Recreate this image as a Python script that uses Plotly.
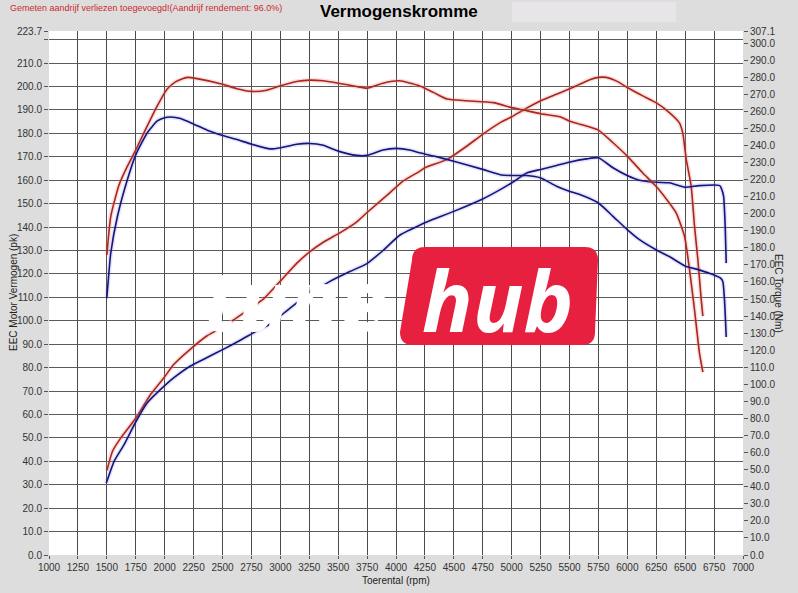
import plotly.graph_objects as go

# rpm axis and readings taken off the dyno sheet
rpm_power_red = [1500, 1549, 1621, 1753, 1879, 1994, 2080, 2223, 2367, 2453, 2596, 2711, 2855,
                 2998, 3141, 3256, 3371, 3514, 3658, 3745, 3946, 4060, 4204, 4250, 4442, 4614,
                 4749, 4901, 5001, 5102, 5251, 5388, 5497, 5589, 5675, 5750, 5818, 5904, 5999,
                 6134, 6248, 6363, 6449, 6480, 6509, 6552, 6581, 6610, 6639, 6653]
power_red = [36.0, 44.3, 50.0, 58.6, 68.6, 75.7, 81.4, 87.9, 93.6, 96.0, 100.4, 104.3, 109.3,
             116.8, 124.5, 129.5, 133.5, 137.5, 142.1, 146.0, 154.6, 159.6, 163.8, 165.3, 168.9, 174.6,
             179.6, 184.6, 187.1, 190.0, 193.9, 196.7, 198.9, 201.0, 202.9, 203.9, 203.9, 202.4, 199.6,
             196.0, 193.1, 188.9, 184.6, 180.0, 169.0, 157.4, 140.3, 126.0, 108.9, 102.0]

rpm_torque_red = [1500, 1534, 1606, 1678, 1752, 1835, 1936, 2022, 2094, 2194, 2280, 2500, 2624,
                  2753, 2882, 3002, 3140, 3252, 3370, 3500, 3658, 3750, 3887, 4030, 4201, 4327,
                  4442, 4614, 4843, 5001, 5102, 5251, 5417, 5497, 5589, 5750, 5876, 5999, 6134,
                  6248, 6363, 6423, 6495, 6538, 6581, 6624, 6653]
torque_red = [175.9, 198.5, 217.0, 227.9, 237.6, 249.4, 263.2, 273.1, 277.3, 279.9, 279.2, 275.9, 273.3,
              271.7, 272.4, 275.0, 277.5, 278.3, 277.9, 276.5, 274.6, 273.6, 276.5, 277.9, 275.0, 271.0,
              267.2, 266.2, 265.1, 262.2, 260.8, 258.6, 256.9, 254.4, 252.5, 249.0, 241.6, 233.8, 223.9,
              216.1, 206.3, 200.4, 186.7, 167.1, 143.6, 118.1, 107.2]

rpm_power_blue = [1495, 1563, 1649, 1753, 1850, 1965, 2080, 2223, 2367, 2510, 2654, 2797, 2912,
                  3084, 3228, 3429, 3601, 3745, 3888, 4032, 4213, 4327, 4499, 4749, 4901, 5001,
                  5130, 5251, 5388, 5497, 5646, 5750, 5876, 5999, 6105, 6248, 6363, 6498, 6621,
                  6799, 6811, 6832, 6846, 6855]
power_blue = [30.7, 40.0, 47.1, 57.1, 65.0, 70.7, 75.7, 80.7, 84.3, 87.9, 91.7, 95.7, 98.6,
              105.4, 110.7, 116.8, 121.0, 124.3, 130.0, 136.5, 141.0, 143.4, 146.7, 152.0, 156.0, 158.9,
              163.1, 164.6, 166.3, 167.7, 169.1, 169.6, 165.3, 162.0, 160.0, 159.1, 158.9, 157.0, 157.7,
              157.7, 156.7, 153.2, 140.3, 124.6]

rpm_torque_blue = [1500, 1534, 1592, 1678, 1752, 1850, 1936, 1999, 2051, 2137, 2252, 2367, 2502,
                   2625, 2754, 2912, 3004, 3141, 3253, 3371, 3500, 3658, 3750, 3888, 4003, 4118,
                   4204, 4327, 4499, 4749, 4901, 5001, 5130, 5251, 5388, 5497, 5589, 5750, 5876,
                   5999, 6105, 6248, 6363, 6498, 6621, 6745, 6808, 6826, 6840, 6855]
torque_blue = [150.5, 177.0, 198.5, 220.1, 234.8, 247.5, 254.4, 256.3, 256.7, 255.8, 252.5, 249.0, 245.9,
               243.5, 240.7, 238.0, 238.7, 240.7, 241.2, 240.1, 236.7, 234.2, 234.2, 237.4, 238.3, 237.4,
               235.7, 233.8, 230.8, 226.0, 222.9, 222.4, 222.4, 221.0, 216.1, 213.2, 211.3, 206.3, 198.5,
               190.7, 184.8, 178.9, 174.9, 169.4, 167.1, 164.2, 162.1, 160.2, 149.5, 127.8]

x_ticks = list(range(1000, 7001, 250))
power_ticks = [float(v) for v in range(0, 221, 10)] + [223.7]
torque_ticks = [float(v) for v in range(0, 301, 10)] + [307.1]

RED = "#ac261c"
BLUE = "#15157c"
FONT = "Liberation Sans, Arial, sans-serif"

fig = go.Figure()

def add_curve(x, y, color, glow, axis):
    # soft halo under the line, like the anti-aliased dyno print
    fig.add_trace(go.Scatter(x=x, y=y, yaxis=axis, mode="lines", hoverinfo="skip",
                             line=dict(color=glow, width=4.5, shape="spline", smoothing=0.5)))
    fig.add_trace(go.Scatter(x=x, y=y, yaxis=axis, mode="lines",
                             line=dict(color=color, width=1.6, shape="spline", smoothing=0.5)))

add_curve(rpm_power_red, power_red, RED, "rgba(230,150,150,0.3)", "y")
add_curve(rpm_torque_red, torque_red, RED, "rgba(230,150,150,0.3)", "y2")
add_curve(rpm_power_blue, power_blue, BLUE, "rgba(120,120,220,0.2)", "y")
add_curve(rpm_torque_blue, torque_blue, BLUE, "rgba(120,120,220,0.2)", "y2")

tick_font = dict(family=FONT, size=10, color="#333333")

fig.update_layout(
    width=798, height=593,
    margin=dict(l=49, r=55, t=31, b=38, autoexpand=False),
    paper_bgcolor="#dddddd",
    plot_bgcolor="white",
    showlegend=False,
    xaxis=dict(range=[1000, 7000], tickvals=x_ticks, ticktext=[str(v) for v in x_ticks],
               showgrid=True, gridcolor="#4a4a4a", gridwidth=1, zeroline=False,
               ticks="outside", ticklen=3, tickcolor="#555555", tickfont=tick_font,
               showline=False, automargin=False),
    yaxis=dict(range=[0, 223.7], tickvals=power_ticks,
               ticktext=["%.1f" % v if v != 220 else "" for v in power_ticks],
               showgrid=True, gridcolor="#5a5a5a", gridwidth=1, zeroline=False,
               ticks="outside", ticklen=4, tickcolor="#555555", tickfont=tick_font,
               showline=False, automargin=False),
    yaxis2=dict(range=[0, 307.1], overlaying="y", side="right", tickvals=torque_ticks,
                ticktext=["%.1f" % v for v in torque_ticks], showgrid=False, zeroline=False,
                ticks="outside", ticklen=4, tickcolor="#555555", tickfont=tick_font,
                showline=False, automargin=False),
)

def P(px, py):
    # pixel position on the sheet -> paper coordinates
    return (px - 49) / 694, (555 - py) / 524

# lighter empty box in the header
bx0, by0 = P(512, 22)
bx1, by1 = P(676, 2)
fig.add_shape(type="rect", xref="paper", yref="paper", x0=bx0, y0=by0, x1=bx1, y1=by1,
              fillcolor="#e7e5e7", line=dict(width=0), layer="below")

# watermark badge
pts = [(412, 247), (598, 247), (595, 345), (400, 345)]
r = 13
path = []
c = [P(*p) for p in [(412 + r, 247), (598 - r, 247), (598, 247 + r), (595, 345 - r),
                     (595 - r, 345), (400 + r, 345), (400, 345 - r), (412, 247 + r)]]
corners = [P(*p) for p in pts]
path.append("M %f,%f" % c[0])
path.append("L %f,%f" % c[1])
path.append("Q %f,%f %f,%f" % (corners[1] + c[2]))
path.append("L %f,%f" % c[3])
path.append("Q %f,%f %f,%f" % (corners[2] + c[4]))
path.append("L %f,%f" % c[5])
path.append("Q %f,%f %f,%f" % (corners[3] + c[6]))
path.append("L %f,%f" % c[7])
path.append("Q %f,%f %f,%f" % (corners[0] + c[0]))
path.append("Z")
fig.add_shape(type="path", xref="paper", yref="paper", path=" ".join(path),
              fillcolor="#e8203f", line=dict(width=0), layer="above")

hx, hy = P(497, 300)
fig.add_annotation(xref="paper", yref="paper", x=hx, y=hy, text="hub", showarrow=False,
                   font=dict(family="Open Sans, Liberation Sans, sans-serif", size=84,
                             color="white", weight="bold", style="italic"),
                   xanchor="center", yanchor="middle")
tx, ty = P(295, 298)
fig.add_annotation(xref="paper", yref="paper", x=tx, y=ty, text="tune", showarrow=False,
                   font=dict(family="Open Sans, Liberation Sans, sans-serif", size=84,
                             color="white", weight="bold", style="italic"),
                   xanchor="center", yanchor="middle")

# header texts
x0, y0 = P(8, 8)
fig.add_annotation(xref="paper", yref="paper", x=x0, y=y0, showarrow=False,
                   text="Gemeten aandrijf verliezen toegevoegd!(Aandrijf rendement: 96.0%)",
                   font=dict(family=FONT, size=9, color="#cc2a2a"),
                   xanchor="left", yanchor="middle")
x0, y0 = P(399, 12)
fig.add_annotation(xref="paper", yref="paper", x=x0, y=y0, showarrow=False,
                   text="<b>Vermogenskromme</b>",
                   font=dict(family=FONT, size=17, color="black"),
                   xanchor="center", yanchor="middle")

# axis titles
x0, y0 = P(396, 580)
fig.add_annotation(xref="paper", yref="paper", x=x0, y=y0, showarrow=False,
                   text="Toerental (rpm)", font=dict(family=FONT, size=10, color="#222222"),
                   xanchor="center", yanchor="middle")
x0, y0 = P(13, 293)
fig.add_annotation(xref="paper", yref="paper", x=x0, y=y0, showarrow=False, textangle=-90,
                   text="EEC Motor Vermogen (pk)", font=dict(family=FONT, size=10, color="#222222"),
                   xanchor="center", yanchor="middle")
x0, y0 = P(779, 293)
fig.add_annotation(xref="paper", yref="paper", x=x0, y=y0, showarrow=False, textangle=90,
                   text="EEC Torque (Nm)", font=dict(family=FONT, size=10, color="#222222"),
                   xanchor="center", yanchor="middle")

# the page body has a default margin; drop it so the sheet sits at the window corner
fig.write_html("out.html", config={"displayModeBar": False},
               post_script="document.body.style.margin='0px';")
